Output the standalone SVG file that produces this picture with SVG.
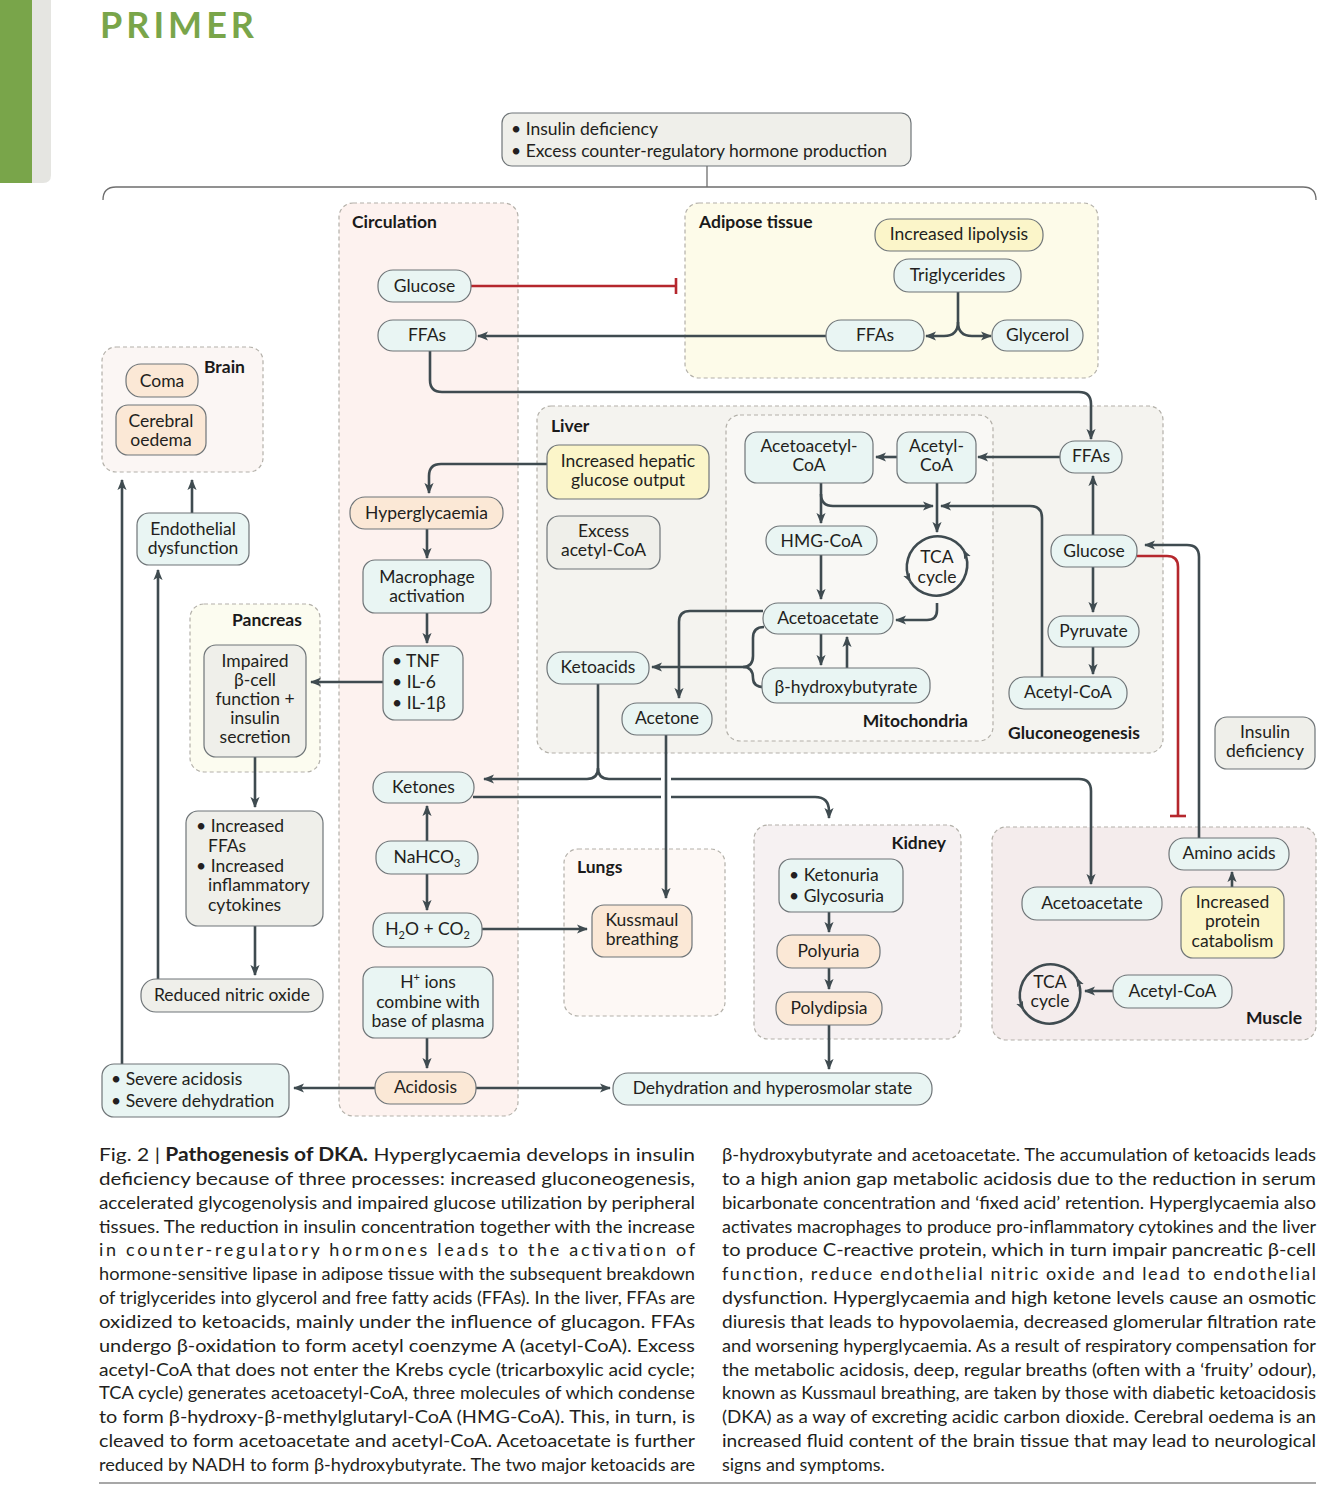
<svg xmlns="http://www.w3.org/2000/svg" width="1334" height="1485" viewBox="0 0 1334 1485">
<style>
.tx{font-family:Lato,"Open Sans","Liberation Sans",sans-serif;font-size:17.5px;fill:#231f20;text-anchor:middle}
.st{text-anchor:start}
.en{text-anchor:end}
.lb{font-family:Lato,"Open Sans","Liberation Sans",sans-serif;font-size:17.5px;font-weight:bold;fill:#1a1a1a}
.cap{font-family:Lato,"Open Sans","Liberation Sans",sans-serif;font-size:18px;fill:#231f20}
.cont{stroke:#b3b0a9;stroke-width:1.2;stroke-dasharray:4 3}
.n{stroke:#6f7578;stroke-width:1.2}
.teal{fill:#e9f5f3}
.peach{fill:#fbe8d6}
.yel{fill:#fbf5c9}
.grey{fill:#efefea}
.c{fill:none;stroke:#3f4b50;stroke-width:2.6}
.a{marker-end:url(#ah)}
.r{fill:none;stroke:#b5272d;stroke-width:2.6}
.cyc{fill:none;stroke:#3f4b50;stroke-width:2.6;marker-end:url(#ahs)}
</style>
<defs>
<marker id="ah" viewBox="0 0 12 12" refX="11" refY="6" markerWidth="11" markerHeight="11" markerUnits="userSpaceOnUse" orient="auto"><path d="M0,1 L12,6 L0,11 L3,6 Z" fill="#3f4b50"/></marker>
<marker id="ahs" viewBox="0 0 12 12" refX="11" refY="6" markerWidth="9" markerHeight="9" markerUnits="userSpaceOnUse" orient="auto"><path d="M0,1 L12,6 L0,11 L3,6 Z" fill="#3f4b50"/></marker>
</defs>
<rect width="1334" height="1485" fill="#ffffff"/>
<!-- header -->
<g id="header">
<path d="M32,0 H51 V175 Q51,183 43,183 H32 Z" fill="#e5e5e1"/>
<rect x="0" y="0" width="32" height="183" fill="#79a54a"/>
<text x="100" y="38" style="font-family:Lato,'Open Sans',sans-serif;font-size:36px;font-weight:bold;fill:#79a54a;letter-spacing:4px">PRIMER</text>
</g>
<!-- containers -->
<g id="containers">
<rect id="circulation" class="cont" x="339" y="203" width="179" height="913" rx="14" fill="#fdf2ef"/>
<rect id="adipose" class="cont" x="685" y="203" width="413" height="175" rx="14" fill="#fdfbe9"/>
<rect id="brain" class="cont" x="102" y="347" width="161" height="125" rx="14" fill="#fbf6f4"/>
<rect id="liver" class="cont" x="537" y="406" width="626" height="347" rx="14" fill="#f4f3ef"/>
<rect id="mitochondria" class="cont" x="726" y="415" width="267" height="326" rx="14" fill="#f9f8f5"/>
<rect id="pancreas" class="cont" x="190" y="604" width="130" height="168" rx="14" fill="#fcfcf0"/>
<rect id="lungs" class="cont" x="564" y="849" width="161" height="167" rx="14" fill="#fdf8f5"/>
<rect id="kidney" class="cont" x="754" y="825" width="207" height="214" rx="14" fill="#f6f1f2"/>
<rect id="muscle" class="cont" x="992" y="827" width="324" height="213" rx="14" fill="#f4ecec"/>
<text class="lb" x="352" y="228">Circulation</text>
<text class="lb" x="699" y="228">Adipose tissue</text>
<text class="lb" x="204" y="373">Brain</text>
<text class="lb" x="551" y="432">Liver</text>
<text class="lb" x="968" y="727" text-anchor="end">Mitochondria</text>
<text class="lb" x="1008" y="739">Gluconeogenesis</text>
<text class="lb" x="232" y="626">Pancreas</text>
<text class="lb" x="577" y="873">Lungs</text>
<text class="lb" x="946" y="849" text-anchor="end">Kidney</text>
<text class="lb" x="1302" y="1024" text-anchor="end">Muscle</text>
</g>
<!-- connectors -->
<g id="connectors">
<path d="M707,166 V187" fill="none" stroke="#6e6e6e" stroke-width="1.3"/>
<path d="M103,200 Q103,187 116,187 H1303 Q1316,187 1316,200" fill="none" stroke="#6e6e6e" stroke-width="1.3"/>
<path class="r" d="M471,286 H676"/>
<path class="r" d="M676,278 V294"/>
<path class="c a" d="M826,336 H478"/>
<path class="c" d="M958,292 V322"/>
<path class="c a" d="M958,322 Q958,336 944,336 H926"/>
<path class="c a" d="M958,322 Q958,336 972,336 H991"/>
<path class="c a" d="M430,351 V380 Q430,392 442,392 H1079 Q1091,392 1091,404 V439"/>
<path class="c a" d="M1060,457 H978"/>
<path class="c a" d="M897,457 H876"/>
<path class="c a" d="M821,483 V523"/>
<path class="c a" d="M821,494 Q821,506 833,506 H933"/>
<path class="c a" d="M937,483 V532"/>
<path class="c a" d="M1042,677 V518 Q1042,506 1030,506 H941"/>
<path class="c a" d="M821,555 V599"/>
<path class="c a" d="M937,603 V610 Q937,620 927,620 H896"/>
<path class="c a" d="M821,634 V665"/>
<path class="c a" d="M847,668 V637"/>
<path class="c" d="M764,627 Q753,627 753,638 V656 Q753,667 743,667"/>
<path class="c" d="M764,687 Q753,687 753,678 V678 Q753,667 743,667"/>
<path class="c a" d="M743,667 H652"/>
<path class="c a" d="M763,611 H690 Q679,611 679,622 V698"/>
<path class="c" d="M598,684 V768"/>
<path class="c a" d="M598,768 Q598,779 587,779 H484"/>
<path class="c a" d="M598,768 Q598,779 609,779 H1079 Q1091,779 1091,791 V884"/>
<path class="c a" d="M473,797 H815 Q829,797 829,811 V818"/>
<path d="M666,770 V806" stroke="#ffffff" stroke-width="10" fill="none"/>
<path class="c a" d="M666,735 V898"/>
<path class="c a" d="M1093,535 V476"/>
<path class="c a" d="M1093,567 V612"/>
<path class="c a" d="M1093,647 V674"/>
<path class="r" d="M1137,556 H1167 Q1178,556 1178,567 V816"/>
<path class="r" d="M1170,816 H1186"/>
<path class="c a" d="M1199,838 V557 Q1199,545 1187,545 H1145"/>
<path class="c a" d="M547,464 H441 Q429,464 429,476 V493"/>
<path class="c a" d="M427,529 V558"/>
<path class="c a" d="M427,613 V643"/>
<path class="c a" d="M383,682 H311"/>
<path class="c a" d="M255,757 V807"/>
<path class="c a" d="M255,926 V975"/>
<path class="c a" d="M158,979 V570"/>
<path class="c a" d="M192,513 V480"/>
<path class="c a" d="M122,1064 V480"/>
<path class="c a" d="M427,841 V806"/>
<path class="c a" d="M427,874 V910"/>
<path class="c a" d="M482,929 H587"/>
<path class="c a" d="M427,1038 V1068"/>
<path class="c a" d="M375,1088 H294"/>
<path class="c a" d="M476,1088 H610"/>
<path class="c a" d="M829,912 V932"/>
<path class="c a" d="M829,968 V989"/>
<path class="c a" d="M829,1025 V1069"/>
<path class="c a" d="M1232,887 V872"/>
<path class="c a" d="M1113,991 H1085"/>
</g>
<!-- nodes -->
<g id="n-top"><rect class="n grey" x="502" y="113" width="409" height="53" rx="10"/>
<text class="tx st" x="511" y="135">• Insulin deficiency</text>
<text class="tx st" x="511" y="157">• Excess counter-regulatory hormone production</text></g>
<g id="n-lipolysis"><rect class="n yel" x="875" y="219" width="168" height="32" rx="15"/><text class="tx" x="959" y="240">Increased lipolysis</text></g>
<g id="n-triglycerides"><rect class="n teal" x="894" y="259" width="127" height="33" rx="15"/><text class="tx" x="957.5" y="281">Triglycerides</text></g>
<g id="n-ffa-adipose"><rect class="n teal" x="826" y="320" width="98" height="31" rx="15"/><text class="tx" x="875" y="341">FFAs</text></g>
<g id="n-glycerol"><rect class="n teal" x="992" y="320" width="91" height="31" rx="15"/><text class="tx" x="1037.5" y="341">Glycerol</text></g>
<g id="n-glucose-circ"><rect class="n teal" x="378" y="270" width="93" height="32" rx="15"/><text class="tx" x="424.5" y="292">Glucose</text></g>
<g id="n-ffa-circ"><rect class="n teal" x="378" y="320" width="98" height="31" rx="15"/><text class="tx" x="427" y="341">FFAs</text></g>
<g id="n-hyperglycaemia"><rect class="n peach" x="350" y="497" width="153" height="32" rx="15"/><text class="tx" x="426.5" y="519">Hyperglycaemia</text></g>
<g id="n-macrophage"><rect class="n teal" x="363" y="560" width="128" height="53" rx="12"/><text class="tx" x="427" y="583">Macrophage</text><text class="tx" x="427" y="602">activation</text></g>
<g id="n-cytokines"><rect class="n teal" x="383" y="646" width="80" height="74" rx="12"/>
<text class="tx st" x="392" y="667">• TNF</text><text class="tx st" x="392" y="688">• IL-6</text><text class="tx st" x="392" y="709">• IL-1β</text></g>
<g id="n-ketones"><rect class="n teal" x="373" y="772" width="101" height="31" rx="15"/><text class="tx" x="423.5" y="793">Ketones</text></g>
<g id="n-nahco3"><rect class="n teal" x="376" y="841" width="102" height="33" rx="15"/><text class="tx" x="427" y="863">NaHCO<tspan font-size="11" dy="4">3</tspan></text></g>
<g id="n-h2o"><rect class="n teal" x="373" y="913" width="109" height="34" rx="15"/><text class="tx" x="427.5" y="935">H<tspan font-size="11" dy="4">2</tspan><tspan dy="-4">O + CO</tspan><tspan font-size="11" dy="4">2</tspan></text></g>
<g id="n-hions"><rect class="n teal" x="363" y="967" width="130" height="71" rx="12"/><text class="tx" x="428" y="988">H<tspan font-size="11" dy="-7">+</tspan><tspan dy="7"> ions</tspan></text><text class="tx" x="428" y="1008">combine with</text><text class="tx" x="428" y="1027">base of plasma</text></g>
<g id="n-acidosis"><rect class="n peach" x="375" y="1072" width="101" height="32" rx="15"/><text class="tx" x="425.5" y="1093">Acidosis</text></g>
<g id="n-coma"><rect class="n peach" x="126" y="364" width="72" height="33" rx="15"/><text class="tx" x="162" y="387">Coma</text></g>
<g id="n-cerebral"><rect class="n peach" x="116" y="405" width="90" height="50" rx="12"/><text class="tx" x="161" y="427">Cerebral</text><text class="tx" x="161" y="446">oedema</text></g>
<g id="n-endothelial"><rect class="n teal" x="137" y="513" width="112" height="52" rx="12"/><text class="tx" x="193" y="535">Endothelial</text><text class="tx" x="193" y="554">dysfunction</text></g>
<g id="n-impaired"><rect class="n grey" x="204" y="645" width="102" height="112" rx="12"/>
<text class="tx" x="255" y="667">Impaired</text><text class="tx" x="255" y="686">β-cell</text><text class="tx" x="255" y="705">function +</text><text class="tx" x="255" y="724">insulin</text><text class="tx" x="255" y="743">secretion</text></g>
<g id="n-increased"><rect class="n grey" x="186" y="811" width="137" height="115" rx="12"/>
<text class="tx st" x="196" y="832">• Increased</text><text class="tx st" x="208" y="852">FFAs</text><text class="tx st" x="196" y="872">• Increased</text><text class="tx st" x="208" y="891">inflammatory</text><text class="tx st" x="208" y="911">cytokines</text></g>
<g id="n-nitric"><rect class="n grey" x="141" y="979" width="182" height="33" rx="15"/><text class="tx" x="232" y="1001">Reduced nitric oxide</text></g>
<g id="n-severe"><rect class="n teal" x="102" y="1064" width="187" height="53" rx="12"/><text class="tx st" x="111" y="1085">• Severe acidosis</text><text class="tx st" x="111" y="1107">• Severe dehydration</text></g>
<g id="n-hepatic"><rect class="n yel" x="547" y="445" width="162" height="54" rx="12"/><text class="tx" x="628" y="467">Increased hepatic</text><text class="tx" x="628" y="486">glucose output</text></g>
<g id="n-excess"><rect class="n grey" x="547" y="516" width="113" height="53" rx="12"/><text class="tx" x="603.5" y="537">Excess</text><text class="tx" x="603.5" y="556">acetyl-CoA</text></g>
<g id="n-acetoacetylcoa"><rect class="n teal" x="745" y="432" width="128" height="51" rx="12"/><text class="tx" x="809" y="452">Acetoacetyl-</text><text class="tx" x="809" y="471">CoA</text></g>
<g id="n-acetylcoa-mito"><rect class="n teal" x="897" y="432" width="79" height="51" rx="12"/><text class="tx" x="936.5" y="452">Acetyl-</text><text class="tx" x="936.5" y="471">CoA</text></g>
<g id="n-hmgcoa"><rect class="n teal" x="766" y="526" width="111" height="29" rx="14"/><text class="tx" x="821.5" y="547">HMG-CoA</text></g>
<g id="n-tca-liver"><path class="cyc" d="M910.2,581.5 A31,31 0 0 0 963.8,550.5"/><path class="cyc" d="M963.8,550.5 A31,31 0 0 0 910.2,581.5"/><text class="tx" x="937" y="563">TCA</text><text class="tx" x="937" y="583">cycle</text></g>
<g id="n-acetoacetate-liver"><rect class="n teal" x="763" y="603" width="130" height="31" rx="15"/><text class="tx" x="828" y="624">Acetoacetate</text></g>
<g id="n-bhb"><rect class="n teal" x="762" y="668" width="168" height="35" rx="15"/><text class="tx" x="846" y="693">β-hydroxybutyrate</text></g>
<g id="n-ketoacids"><rect class="n teal" x="547" y="652" width="102" height="32" rx="15"/><text class="tx" x="598" y="673">Ketoacids</text></g>
<g id="n-acetone"><rect class="n teal" x="622" y="703" width="90" height="32" rx="15"/><text class="tx" x="667" y="724">Acetone</text></g>
<g id="n-ffa-liver"><rect class="n teal" x="1060" y="441" width="62" height="32" rx="15"/><text class="tx" x="1091" y="462">FFAs</text></g>
<g id="n-glucose-liver"><rect class="n teal" x="1051" y="535" width="86" height="32" rx="15"/><text class="tx" x="1094" y="557">Glucose</text></g>
<g id="n-pyruvate"><rect class="n teal" x="1048" y="616" width="91" height="31" rx="15"/><text class="tx" x="1093.5" y="637">Pyruvate</text></g>
<g id="n-acetylcoa-liver"><rect class="n teal" x="1009" y="677" width="118" height="32" rx="15"/><text class="tx" x="1068" y="698">Acetyl-CoA</text></g>
<g id="n-insulin"><rect class="n grey" x="1215" y="717" width="100" height="52" rx="12"/><text class="tx" x="1265" y="738">Insulin</text><text class="tx" x="1265" y="757">deficiency</text></g>
<g id="n-kussmaul"><rect class="n peach" x="592" y="905" width="100" height="52" rx="12"/><text class="tx" x="642" y="926">Kussmaul</text><text class="tx" x="642" y="945">breathing</text></g>
<g id="n-ketonuria"><rect class="n teal" x="779" y="859" width="124" height="53" rx="12"/><text class="tx st" x="789" y="881">• Ketonuria</text><text class="tx st" x="789" y="902">• Glycosuria</text></g>
<g id="n-polyuria"><rect class="n peach" x="777" y="935" width="103" height="33" rx="15"/><text class="tx" x="828.5" y="957">Polyuria</text></g>
<g id="n-polydipsia"><rect class="n peach" x="776" y="992" width="106" height="33" rx="15"/><text class="tx" x="829" y="1014">Polydipsia</text></g>
<g id="n-dehydration"><rect class="n teal" x="613" y="1073" width="319" height="32" rx="15"/><text class="tx" x="772.5" y="1094">Dehydration and hyperosmolar state</text></g>
<g id="n-amino"><rect class="n teal" x="1169" y="838" width="120" height="32" rx="15"/><text class="tx" x="1229" y="859">Amino acids</text></g>
<g id="n-protein"><rect class="n yel" x="1181" y="887" width="103" height="71" rx="12"/><text class="tx" x="1232.5" y="908">Increased</text><text class="tx" x="1232.5" y="927">protein</text><text class="tx" x="1232.5" y="947">catabolism</text></g>
<g id="n-acetoacetate-muscle"><rect class="n teal" x="1022" y="887" width="140" height="33" rx="15"/><text class="tx" x="1092" y="909">Acetoacetate</text></g>
<g id="n-acetylcoa-muscle"><rect class="n teal" x="1113" y="975" width="119" height="33" rx="15"/><text class="tx" x="1172.5" y="997">Acetyl-CoA</text></g>
<g id="n-tca-muscle"><path class="cyc" d="M1023.2,1009.5 A31,31 0 0 0 1076.8,978.5"/><path class="cyc" d="M1076.8,978.5 A31,31 0 0 0 1023.2,1009.5"/><text class="tx" x="1050" y="988">TCA</text><text class="tx" x="1050" y="1007">cycle</text></g>
<!-- caption -->
<g id="caption">
<text class="cap" x="99" y="1161" textLength="596" lengthAdjust="spacingAndGlyphs">Fig. 2 | <tspan font-weight="bold">Pathogenesis of DKA.</tspan> Hyperglycaemia develops in insulin</text>
<text class="cap" x="99" y="1185" textLength="596" lengthAdjust="spacingAndGlyphs">deficiency because of three processes: increased gluconeogenesis,</text>
<text class="cap" x="99" y="1209" textLength="596" lengthAdjust="spacingAndGlyphs">accelerated glycogenolysis and impaired glucose utilization by peripheral</text>
<text class="cap" x="99" y="1233" textLength="596" lengthAdjust="spacingAndGlyphs">tissues. The reduction in insulin concentration together with the increase</text>
<text class="cap" x="99" y="1256" textLength="596" lengthAdjust="spacing">in counter-regulatory hormones leads to the activation of</text>
<text class="cap" x="99" y="1280" textLength="596" lengthAdjust="spacingAndGlyphs">hormone-sensitive lipase in adipose tissue with the subsequent breakdown</text>
<text class="cap" x="99" y="1304" textLength="596" lengthAdjust="spacingAndGlyphs">of triglycerides into glycerol and free fatty acids (FFAs). In the liver, FFAs are</text>
<text class="cap" x="99" y="1328" textLength="596" lengthAdjust="spacingAndGlyphs">oxidized to ketoacids, mainly under the influence of glucagon. FFAs</text>
<text class="cap" x="99" y="1352" textLength="596" lengthAdjust="spacingAndGlyphs">undergo β-oxidation to form acetyl coenzyme A (acetyl-CoA). Excess</text>
<text class="cap" x="99" y="1376" textLength="596" lengthAdjust="spacingAndGlyphs">acetyl-CoA that does not enter the Krebs cycle (tricarboxylic acid cycle;</text>
<text class="cap" x="99" y="1399" textLength="596" lengthAdjust="spacingAndGlyphs">TCA cycle) generates acetoacetyl-CoA, three molecules of which condense</text>
<text class="cap" x="99" y="1423" textLength="596" lengthAdjust="spacingAndGlyphs">to form β-hydroxy-β-methylglutaryl-CoA (HMG-CoA). This, in turn, is</text>
<text class="cap" x="99" y="1447" textLength="596" lengthAdjust="spacingAndGlyphs">cleaved to form acetoacetate and acetyl-CoA. Acetoacetate is further</text>
<text class="cap" x="99" y="1471" textLength="596" lengthAdjust="spacingAndGlyphs">reduced by NADH to form β-hydroxybutyrate. The two major ketoacids are</text>
<text class="cap" x="722" y="1161" textLength="594" lengthAdjust="spacingAndGlyphs">β-hydroxybutyrate and acetoacetate. The accumulation of ketoacids leads</text>
<text class="cap" x="722" y="1185" textLength="594" lengthAdjust="spacingAndGlyphs">to a high anion gap metabolic acidosis due to the reduction in serum</text>
<text class="cap" x="722" y="1209" textLength="594" lengthAdjust="spacingAndGlyphs">bicarbonate concentration and ‘fixed acid’ retention. Hyperglycaemia also</text>
<text class="cap" x="722" y="1233" textLength="594" lengthAdjust="spacingAndGlyphs">activates macrophages to produce pro-inflammatory cytokines and the liver</text>
<text class="cap" x="722" y="1256" textLength="594" lengthAdjust="spacingAndGlyphs">to produce C-reactive protein, which in turn impair pancreatic β-cell</text>
<text class="cap" x="722" y="1280" textLength="594" lengthAdjust="spacing">function, reduce endothelial nitric oxide and lead to endothelial</text>
<text class="cap" x="722" y="1304" textLength="594" lengthAdjust="spacingAndGlyphs">dysfunction. Hyperglycaemia and high ketone levels cause an osmotic</text>
<text class="cap" x="722" y="1328" textLength="594" lengthAdjust="spacingAndGlyphs">diuresis that leads to hypovolaemia, decreased glomerular filtration rate</text>
<text class="cap" x="722" y="1352" textLength="594" lengthAdjust="spacingAndGlyphs">and worsening hyperglycaemia. As a result of respiratory compensation for</text>
<text class="cap" x="722" y="1376" textLength="594" lengthAdjust="spacingAndGlyphs">the metabolic acidosis, deep, regular breaths (often with a ‘fruity’ odour),</text>
<text class="cap" x="722" y="1399" textLength="594" lengthAdjust="spacingAndGlyphs">known as Kussmaul breathing, are taken by those with diabetic ketoacidosis</text>
<text class="cap" x="722" y="1423" textLength="594" lengthAdjust="spacingAndGlyphs">(DKA) as a way of excreting acidic carbon dioxide. Cerebral oedema is an</text>
<text class="cap" x="722" y="1447" textLength="594" lengthAdjust="spacingAndGlyphs">increased fluid content of the brain tissue that may lead to neurological</text>
<text class="cap" x="722" y="1471">signs and symptoms.</text>
<path d="M99,1483 H1316" stroke="#8a8a8a" stroke-width="1.5"/>
</g>
</svg>
